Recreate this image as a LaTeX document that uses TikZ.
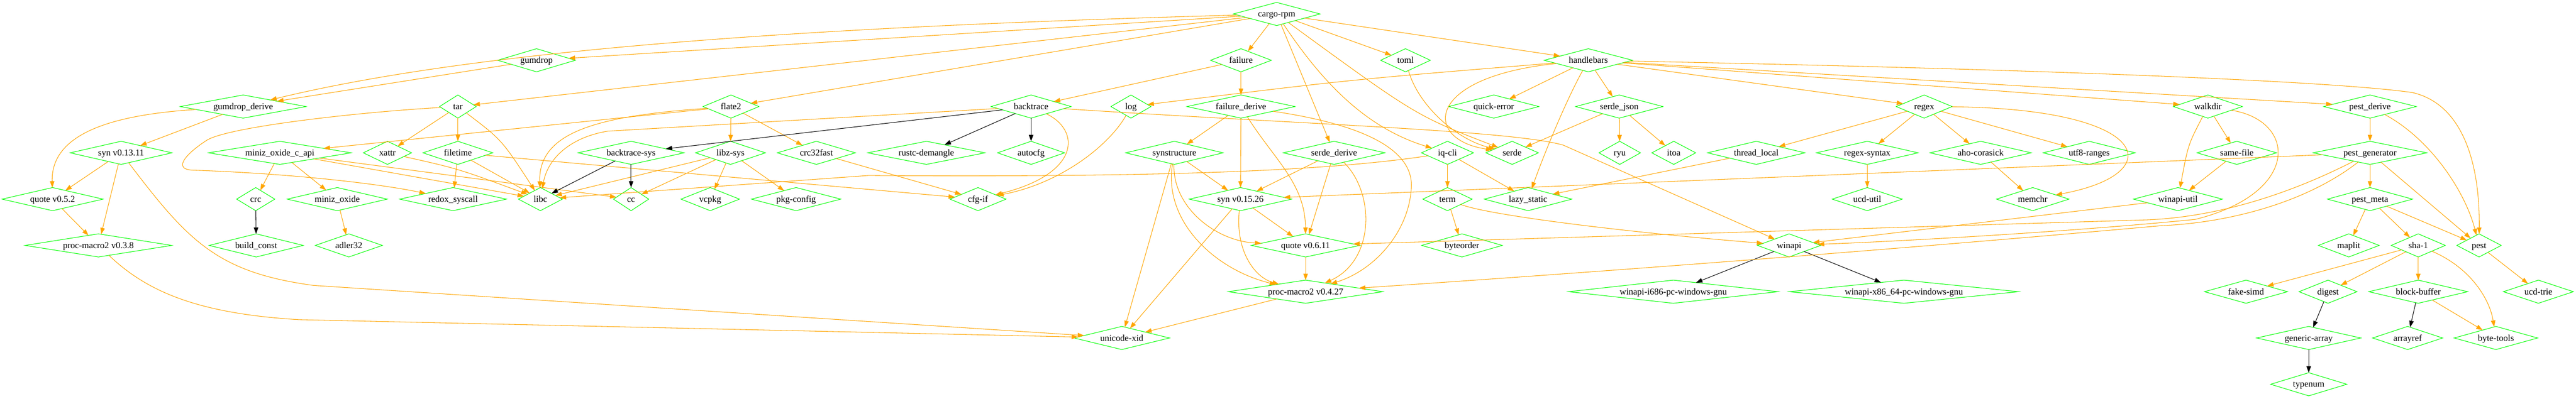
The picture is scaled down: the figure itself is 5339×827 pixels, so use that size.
\documentclass[tikz,border=0pt]{standalone}
\usepackage{fontspec}
\setmainfont{Liberation Serif}
\usetikzlibrary{shapes.geometric,arrows.meta}
\definecolor{pkggreen}{HTML}{00FF00}
\definecolor{deporange}{HTML}{FFA500}
\newcommand\pklabel[1]{\raisebox{-0.32em}[0pt][0pt]{\makebox[0pt]{#1}}}
\newcommand\pk[5]{\node[pkg,nw=#4] (#1) at (#2,#3) {\pklabel{#5}};}
\begin{document}
\begin{tikzpicture}[x=0.75pt,y=-0.75pt,
  pkg/.style={diamond,draw=pkggreen,line width=0.85pt,inner sep=0pt,outer sep=0pt,minimum height=36pt,font=\fontsize{14}{16}\selectfont},
  nw/.style={minimum width=#1*0.75pt},
  dep/.style={draw=deporange,line width=0.85pt,-{Triangle[length=10pt,width=7pt]}},
  blk/.style={draw=black,line width=0.85pt,-{Triangle[length=10pt,width=7pt]}}]
\useasboundingbox (0,0) rectangle (5339,827);
% rank 0
\pk{cargorpm}{2646}{29}{180}{cargo-rpm}
% rank 1
\pk{gumdrop}{1112}{125}{161}{gumdrop}
\pk{failure}{2572}{125}{126}{failure}
\pk{toml}{2913}{125}{103}{toml}
\pk{handlebars}{3292}{125}{183}{handlebars}
% rank 2
\pk{gumdropderive}{504}{221}{261}{gumdrop\_derive}
\pk{tar}{949}{221}{76}{tar}
\pk{flatetwo}{1515}{221}{116}{flate2}
\pk{backtrace}{2137}{221}{166}{backtrace}
\pk{log}{2344}{221}{83}{log}
\pk{failurederive}{2572}{221}{224}{failure\_derive}
\pk{quickerror}{3096}{221}{187}{quick-error}
\pk{serdejson}{3356}{221}{181}{serde\_json}
\pk{regex}{3988}{221}{116}{regex}
\pk{walkdir}{4576}{221}{143}{walkdir}
\pk{pestderive}{4912}{221}{192}{pest\_derive}
% rank 3
\pk{synold}{251}{317}{211}{syn v0.13.11}
\pk{minizcapi}{580}{317}{296}{miniz\_oxide\_c\_api}
\pk{xattr}{803}{317}{100}{xattr}
\pk{filetime}{949}{317}{145}{filetime}
\pk{backtracesys}{1308}{317}{220}{backtrace-sys}
\pk{libzsys}{1514}{317}{145}{libz-sys}
\pk{crcfast}{1692}{317}{162}{crc32fast}
\pk{rustcdemangle}{1920}{317}{243}{rustc-demangle}
\pk{autocfg}{2137}{317}{139}{autocfg}
\pk{synstructure}{2434}{317}{202}{synstructure}
\pk{serdederive}{2765}{317}{211}{serde\_derive}
\pk{iqcli}{3000}{317}{108}{iq-cli}
\pk{serde}{3134}{317}{109}{serde}
\pk{ryu}{3357}{317}{86}{ryu}
\pk{itoa}{3469}{317}{91}{itoa}
\pk{threadlocal}{3640}{317}{202}{thread\_local}
\pk{regexsyntax}{3870}{317}{211}{regex-syntax}
\pk{ahocorasick}{4105}{317}{210}{aho-corasick}
\pk{utfranges}{4330}{317}{191}{utf8-ranges}
\pk{samefile}{4636}{317}{165}{same-file}
\pk{pestgenerator}{4912}{317}{236}{pest\_generator}
% rank 4
\pk{quoteold}{109}{413}{209}{quote v0.5.2}
\pk{crc}{530}{413}{79}{crc}
\pk{minizoxide}{699}{413}{207}{miniz\_oxide}
\pk{redox}{939}{413}{221}{redox\_syscall}
\pk{libc}{1120}{413}{91}{libc}
\pk{cc}{1308}{413}{73}{cc}
\pk{vcpkg}{1472}{413}{121}{vcpkg}
\pk{pkgconfig}{1650}{413}{185}{pkg-config}
\pk{cfgif}{2027}{413}{116}{cfg-if}
\pk{synnew}{2571}{413}{212}{syn v0.15.26}
\pk{term}{3000}{413}{102}{term}
\pk{lazystatic}{3167}{413}{181}{lazy\_static}
\pk{ucdutil}{3870}{413}{145}{ucd-util}
\pk{memchr}{4213}{413}{150}{memchr}
\pk{winapiutil}{4514}{413}{184}{winapi-util}
\pk{pestmeta}{4912}{413}{176}{pest\_meta}
% rank 5
\pk{pmold}{204}{509}{304}{proc-macro2 v0.3.8}
\pk{buildconst}{531}{509}{195}{build\_const}
\pk{adler}{723}{509}{139}{adler32}
\pk{quotenew}{2706}{509}{225}{quote v0.6.11}
\pk{byteorder}{3030}{509}{167}{byteorder}
\pk{winapi}{3708}{509}{131}{winapi}
\pk{maplit}{4868}{509}{126}{maplit}
\pk{shaone}{5012}{509}{112}{sha-1}
\pk{pest}{5138}{509}{92}{pest}
% rank 6
\pk{pmnew}{2706}{605}{320}{proc-macro2 v0.4.27}
\pk{winapiia}{3468}{605}{434}{winapi-i686-pc-windows-gnu}
\pk{winapixa}{3946}{605}{475}{winapi-x86\_64-pc-windows-gnu}
\pk{fakesimd}{4655}{605}{172}{fake-simd}
\pk{digest}{4825}{605}{120}{digest}
\pk{blockbuffer}{5012}{605}{205}{block-buffer}
\pk{ucdtrie}{5261}{605}{145}{ucd-trie}
% rank 7
\pk{unicodexid}{2325}{701}{198}{unicode-xid}
\pk{genericarray}{4785}{701}{216}{generic-array}
\pk{arrayref}{4990}{701}{145}{arrayref}
\pk{bytetools}{5173}{701}{173}{byte-tools}
% rank 8
\pk{typenum}{4785}{797}{158}{typenum}

% ---- edges ----
% cargo-rpm
\draw[dep] (cargorpm) -- (gumdrop);
\draw[dep] (cargorpm) .. controls (1700,55) and (1000,100) .. (gumdropderive);
\draw[dep] (cargorpm) -- (tar);
\draw[dep] (cargorpm) -- (flatetwo);
\draw[dep] (cargorpm) -- (failure);
\draw[dep] (cargorpm) -- (serdederive);
\draw[dep] (cargorpm) .. controls (2740,170) and (2830,265) .. (iqcli);
\draw[dep] (cargorpm) .. controls (2935,240) .. (serde);
\draw[dep] (cargorpm) -- (toml);
\draw[dep] (cargorpm) -- (handlebars);
% gumdrop family
\draw[dep] (gumdrop) -- (gumdropderive);
\draw[dep] (gumdropderive) -- (synold);
\draw[dep] (gumdropderive) .. controls (200,240) and (106,290) .. (quoteold);
\draw[dep] (synold) -- (quoteold);
\draw[dep] (synold) -- (pmold);
\draw[dep] (synold) .. controls (390,500) and (450,565) .. (650,592) -- (unicodexid);
\draw[dep] (quoteold) -- (pmold);
\draw[dep] (pmold) .. controls (300,600) and (400,650) .. (620,663) -- (unicodexid);
% tar
\draw[dep] (tar) -- (xattr);
\draw[dep] (tar) -- (filetime);
\draw[dep] (tar) .. controls (1040,290) .. (libc);
\draw[dep] (tar) .. controls (750,232) and (480,262) .. (430,290) .. controls (395,312) and (350,352) .. (402,353) .. controls (600,360) and (780,380) .. (redox);
% flate2
\draw[dep] (flatetwo) -- (minizcapi);
\draw[dep] (flatetwo) .. controls (1250,240) and (1115,270) .. (libc);
\draw[dep] (flatetwo) -- (libzsys);
\draw[dep] (flatetwo) -- (crcfast);
% miniz
\draw[dep] (minizcapi) -- (crc);
\draw[dep] (minizcapi) -- (minizoxide);
\draw[dep] (minizcapi) -- (libc);
\draw[dep] (minizcapi) -- (cc);
\draw[blk] (crc) -- (buildconst);
\draw[dep] (minizoxide) -- (adler);
\draw[dep] (xattr) .. controls (950,350) .. (libc);
\draw[dep] (filetime) -- (redox);
\draw[dep] (filetime) -- (libc);
\draw[dep] (filetime) -- (cfgif);
\draw[dep] (libzsys) -- (libc);
\draw[dep] (libzsys) -- (cc);
\draw[dep] (libzsys) -- (vcpkg);
\draw[dep] (libzsys) -- (pkgconfig);
\draw[dep] (crcfast) -- (cfgif);
% failure / backtrace
\draw[dep] (failure) -- (backtrace);
\draw[dep] (failure) -- (failurederive);
\draw[dep] (backtrace) -- (1260,272) .. controls (1180,285) and (1135,330) .. (libc);
\draw[dep] (backtrace) .. controls (2240,270) and (2240,360) .. (cfgif);
\draw[dep] (backtrace) .. controls (2700,258) and (3130,270) .. (3240,301) -- (winapi);
\draw[blk] (backtrace) -- (backtracesys);
\draw[blk] (backtrace) -- (rustcdemangle);
\draw[blk] (backtrace) -- (autocfg);
\draw[blk] (backtracesys) -- (libc);
\draw[blk] (backtracesys) -- (cc);
\draw[dep] (log) .. controls (2300,300) and (2200,380) .. (cfgif);
% failure_derive
\draw[dep] (failurederive) -- (synstructure);
\draw[dep] (failurederive) -- (synnew);
\draw[dep] (failurederive) .. controls (2640,330) and (2705,380) .. (quotenew);
\draw[dep] (failurederive) .. controls (2850,262) and (2930,320) .. (2925,390) .. controls (2920,480) and (2850,560) .. (pmnew);
\draw[dep] (synstructure) -- (synnew);
\draw[dep] (synstructure) .. controls (2430,430) and (2520,500) .. (quotenew);
\draw[dep] (synstructure) .. controls (2410,460) and (2520,560) .. (pmnew);
\draw[dep] (synstructure) -- (unicodexid);
\draw[dep] (serdederive) -- (synnew);
\draw[dep] (serdederive) -- (quotenew);
\draw[dep] (serdederive) .. controls (2850,400) and (2850,540) .. (pmnew);
\draw[dep] (synnew) -- (quotenew);
\draw[dep] (synnew) .. controls (2560,520) and (2600,575) .. (pmnew);
\draw[dep] (synnew) -- (unicodexid);
\draw[dep] (quotenew) -- (pmnew);
\draw[dep] (pmnew) -- (unicodexid);
% toml / handlebars
\draw[dep] (toml) .. controls (2940,220) and (3020,290) .. (serde);
\draw[dep] (handlebars) .. controls (2800,165) .. (log);
\draw[dep] (handlebars) -- (quickerror);
\draw[dep] (handlebars) -- (serdejson);
\draw[dep] (handlebars) .. controls (2950,160) and (2950,290) .. (serde);
\draw[dep] (handlebars) .. controls (3245,210) and (3200,320) .. (lazystatic);
\draw[dep] (handlebars) -- (regex);
\draw[dep] (handlebars) -- (walkdir);
\draw[dep] (handlebars) -- (pestderive);
\draw[dep] (handlebars) .. controls (4300,145) and (4850,170) .. (5000,192) .. controls (5100,215) and (5140,330) .. (pest);
\draw[dep] (serdejson) -- (serde);
\draw[dep] (serdejson) -- (ryu);
\draw[dep] (serdejson) -- (itoa);
% iq-cli
\draw[dep] (iqcli) -- (term);
\draw[dep] (iqcli) -- (lazystatic);
\draw[dep] (iqcli) .. controls (2750,355) and (2400,368) .. (1800,364) -- (libc);
\draw[dep] (term) -- (byteorder);
\draw[dep] (term) .. controls (3080,445) and (3350,480) .. (winapi);
\draw[dep] (threadlocal) -- (lazystatic);
% regex
\draw[dep] (regex) -- (threadlocal);
\draw[dep] (regex) -- (regexsyntax);
\draw[dep] (regex) -- (ahocorasick);
\draw[dep] (regex) -- (utfranges);
\draw[dep] (regex) .. controls (4460,225) and (4500,360) .. (memchr);
\draw[dep] (regexsyntax) -- (ucdutil);
\draw[dep] (ahocorasick) -- (memchr);
% walkdir / winapi
\draw[dep] (walkdir) -- (samefile);
\draw[dep] (walkdir) .. controls (4535,300) .. (winapiutil);
\draw[dep] (walkdir) .. controls (4760,250) and (4770,400) .. (4550,455) .. controls (4300,480) and (3950,500) .. (winapi);
\draw[dep] (samefile) -- (winapiutil);
\draw[dep] (winapiutil) -- (winapi);
\draw[blk] (winapi) -- (winapiia);
\draw[blk] (winapi) -- (winapixa);
% pest
\draw[dep] (pestderive) -- (pestgenerator);
\draw[dep] (pestderive) .. controls (5040,290) and (5110,400) .. (pest);
\draw[dep] (pestgenerator) -- (pestmeta);
\draw[dep] (pestgenerator) -- (pest);
\draw[dep] (pestgenerator) -- (synnew);
\draw[dep] (pestgenerator) .. controls (4750,400) and (4600,450) .. (4450,456) -- (quotenew);
\draw[dep] (pestgenerator) .. controls (4780,420) and (4620,462) .. (4480,468) .. controls (3900,520) and (3300,565) .. (pmnew);
\draw[dep] (pestmeta) -- (maplit);
\draw[dep] (pestmeta) -- (shaone);
\draw[dep] (pestmeta) -- (pest);
\draw[dep] (shaone) -- (fakesimd);
\draw[dep] (shaone) -- (digest);
\draw[dep] (shaone) -- (blockbuffer);
\draw[dep] (shaone) .. controls (5120,555) and (5160,620) .. (bytetools);
\draw[dep] (pest) -- (ucdtrie);
\draw[blk] (digest) -- (genericarray);
\draw[blk] (blockbuffer) -- (arrayref);
\draw[dep] (blockbuffer) -- (bytetools);
\draw[blk] (genericarray) -- (typenum);
\end{tikzpicture}
\end{document}
